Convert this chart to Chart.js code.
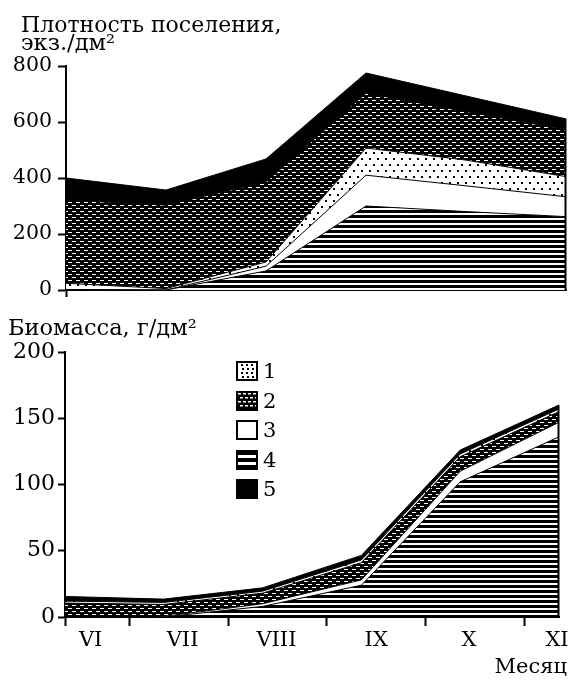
<!DOCTYPE html>
<html><head><meta charset="utf-8">
<script src="https://cdn.jsdelivr.net/npm/chart.js@4.4.1/dist/chart.umd.min.js"></script>
<style>
html,body{margin:0;padding:0;background:#fff;}
#wrap{position:relative;width:576px;height:683px;overflow:hidden;}
#c1{position:absolute;left:0;top:0;}
#c2{position:absolute;left:0;top:310px;}
</style></head><body>
<div id="wrap"><canvas id="c1" width="576" height="310"></canvas><canvas id="c2" width="576" height="373"></canvas></div>
<script>
// ---- data ----
const SAMPLE_MONTHS = [6.35, 7.35, 8.35, 9.35, 10.35, 11.35];   // sampling dates (month units)
const MONTH_BOUNDS = [6.35, 7, 8, 9, 10, 11];                    // tick marks (month boundaries)
const MONTH_LABELS = ['VI', 'VII', 'VIII', 'IX', 'X', 'XI'];
const MONTH_LABEL_AT = [6.61, 7.54, 8.49, 9.5, 10.44, 11.33];
const SERIES_NAMES = ['1', '2', '3', '4', '5'];

const DENSITY_TICKS = [0, 200, 400, 600, 800];
const DENSITY_1 = [22, 5, 15, 97, 92, 72];
const DENSITY_2 = [297, 298, 286, 196, 173, 167];
const DENSITY_3 = [2, 0, 17, 110, 92, 71];
const DENSITY_4 = [0, 0, 68, 300, 280, 262];
const DENSITY_5 = [79, 54, 82, 72, 56, 39];

const BIOMASS_TICKS = [0, 50, 100, 150, 200];
const BIOMASS_1 = [1.5, 1.5, 1.5, 2, 2, 2];
const BIOMASS_2 = [10.5, 9, 8, 13, 11, 8];
const BIOMASS_3 = [0, 0.5, 2, 4, 8, 11];
const BIOMASS_4 = [0, 0, 8, 24, 102, 136];
const BIOMASS_5 = [3.5, 2.5, 2.5, 3.5, 3, 3];

const TITLE_TOP = ['Плотность поселения,', 'экз./дм²'];
const TITLE_BOTTOM = 'Биомасса, г/дм²';
const TITLE_X = 'Месяц';

const FONT = 'DejaVu Serif';
Chart.defaults.font.family = FONT;
Chart.defaults.color = '#000';

function makePatterns(ctx) {
  const tile = (w, h, fn) => {
    const c = document.createElement('canvas'); c.width = w; c.height = h;
    const g = c.getContext('2d'); fn(g); return ctx.createPattern(c, 'repeat');
  };
  return {
    '1': tile(8, 12, g => { g.fillStyle = '#fff'; g.fillRect(0, 0, 8, 12); g.fillStyle = '#000'; g.fillRect(1, 2, 2, 2); g.fillRect(5, 8, 2, 2); }),
    '2': tile(8, 6, g => { g.fillStyle = '#000'; g.fillRect(0, 0, 8, 6); g.fillStyle = '#fff'; g.fillRect(0, 1, 4, 1); g.fillRect(4, 4, 4, 1); }),
    '3': '#ffffff',
    '4': tile(4, 5, g => { g.fillStyle = '#fff'; g.fillRect(0, 0, 4, 5); g.fillStyle = '#000'; g.fillRect(0, 0, 4, 3); }),
    '5': '#000000'
  };
}

function buildDatasets(order, valuesByName, pats) {
  return order.map((name, i) => ({
    label: name,
    data: valuesByName[name].map((v, j) => ({ x: SAMPLE_MONTHS[j], y: v })),
    backgroundColor: pats[name],
    borderColor: '#000',
    borderWidth: 1,
    fill: i === 0 ? 'origin' : '-1',
    pointRadius: 0,
    tension: 0
  }));
}

const edgePlugin = {
  id: 'edge',
  afterDatasetsDraw(chart) {
    const metas = chart.getSortedVisibleDatasetMetas();
    const topMeta = metas.reduce((a, b) => (a.index > b.index ? a : b));
    const last = topMeta.data[topMeta.data.length - 1];
    const ctx = chart.ctx;
    ctx.save();
    ctx.strokeStyle = '#000'; ctx.lineWidth = 2;
    ctx.beginPath();
    ctx.moveTo(Math.round(last.x) - 0.5, last.y);
    ctx.lineTo(Math.round(last.x) - 0.5, chart.scales.y.bottom);
    ctx.stroke();
    ctx.restore();
  }
};

const textPlugin = {
  id: 'texts',
  afterDraw(chart, args, opts) {
    const ctx = chart.ctx;
    ctx.save();
    ctx.fillStyle = '#000';
    (opts.items || []).forEach(it => {
      ctx.font = (it.size || 21) + 'px "' + FONT + '"';
      ctx.textAlign = it.align || 'left';
      ctx.textBaseline = 'alphabetic';
      ctx.fillText(it.text, it.x, it.y);
    });
    ctx.restore();
  }
};

const legendPlugin = {
  id: 'patLegend',
  afterDraw(chart, args, opts) {
    const ctx = chart.ctx;
    ctx.save();
    SERIES_NAMES.forEach((name, i) => {
      const cy = opts.y0 + i * opts.dy;
      const x = opts.x, y = Math.round(cy - opts.h / 2), w = opts.w, h = opts.h;
      ctx.fillStyle = '#fff'; ctx.fillRect(x, y, w, h);
      ctx.fillStyle = '#000';
      if (name === '1') {
        for (let r = 0; r < 4; r++) for (let c = 0; c < 3; c++) ctx.fillRect(x + 5 + c * 5 + (r % 2), y + 3 + r * 4, 2, 2);
      } else if (name === '2') {
        ctx.fillRect(x, y, w, h);
        ctx.fillStyle = '#fff';
        for (let r = 0; r < 5; r++) for (let c = 0; c < 4; c++) ctx.fillRect(x + 2 + c * 5 + (r % 2) * 2, y + 2 + r * 4, 3, 1.5);
      } else if (name === '4') {
        ctx.fillRect(x, y, w, h);
        ctx.fillStyle = '#fff';
        ctx.fillRect(x + 2, y + 5, w - 4, 3);
        ctx.fillRect(x + 2, y + 12, w - 4, 3);
      } else if (name === '5') {
        ctx.fillRect(x, y, w, h);
      }
      ctx.strokeStyle = '#000'; ctx.lineWidth = 2;
      ctx.strokeRect(x + 1, y + 1, w - 2, h - 2);
      ctx.fillStyle = '#000';
      ctx.font = '21px "' + FONT + '"';
      ctx.textAlign = 'left'; ctx.textBaseline = 'middle';
      ctx.fillText(name, x + w + 5, cy + 2);
    });
    ctx.restore();
  }
};

// ---- top chart: density ----
const ctx1 = document.getElementById('c1').getContext('2d');
const pats1 = makePatterns(ctx1);
new Chart(ctx1, {
  type: 'line',
  data: { datasets: buildDatasets(['4', '3', '1', '2', '5'], { '1': DENSITY_1, '2': DENSITY_2, '3': DENSITY_3, '4': DENSITY_4, '5': DENSITY_5 }, pats1) },
  options: {
    responsive: false, animation: false, events: [],
    layout: { padding: { left: 0, right: 10, top: 66, bottom: 0 } },
    scales: {
      x: {
        type: 'linear', min: SAMPLE_MONTHS[0], max: SAMPLE_MONTHS[SAMPLE_MONTHS.length - 1],
        afterBuildTicks: s => { s.ticks = [{ value: MONTH_BOUNDS[0] }]; },
        afterFit: s => { s.height = 20; },
        ticks: { display: false },
        grid: { drawOnChartArea: false, tickLength: 7, tickWidth: 2, color: '#000' },
        border: { display: true, color: '#000', width: 2 }
      },
      y: {
        stacked: true, min: 0, max: 800,
        afterBuildTicks: s => { s.ticks = DENSITY_TICKS.map(v => ({ value: v })); },
        afterFit: s => { s.width = 66; },
        ticks: { font: { size: 20.5 }, padding: 6, color: '#000' },
        grid: { drawOnChartArea: false, tickLength: 8, tickWidth: 2, color: '#000' },
        border: { display: true, color: '#000', width: 2 }
      }
    },
    plugins: {
      legend: { display: false }, tooltip: { enabled: false },
      texts: { items: [
        { text: TITLE_TOP[0], x: 21, y: 32, size: 22 },
        { text: TITLE_TOP[1], x: 21, y: 50, size: 22.5 }
      ] }
    }
  },
  plugins: [edgePlugin, textPlugin]
});

// ---- bottom chart: biomass ----
const ctx2 = document.getElementById('c2').getContext('2d');
const pats2 = makePatterns(ctx2);
const boundSet = new Set(MONTH_BOUNDS);
new Chart(ctx2, {
  type: 'line',
  data: { datasets: buildDatasets(['4', '3', '2', '1', '5'], { '1': BIOMASS_1, '2': BIOMASS_2, '3': BIOMASS_3, '4': BIOMASS_4, '5': BIOMASS_5 }, pats2) },
  options: {
    responsive: false, animation: false, events: [],
    layout: { padding: { left: 0, right: 17, top: 42, bottom: 0 } },
    scales: {
      x: {
        type: 'linear', min: SAMPLE_MONTHS[0], max: SAMPLE_MONTHS[SAMPLE_MONTHS.length - 1],
        afterBuildTicks: s => {
          s.ticks = MONTH_BOUNDS.map(v => ({ value: v })).concat(MONTH_LABEL_AT.map(v => ({ value: v })))
            .sort((a, b) => a.value - b.value);
        },
        afterFit: s => { s.height = 66; },
        ticks: {
          autoSkip: false, maxRotation: 0, minRotation: 0, padding: 2, font: { size: 21 }, color: '#000',
          callback: v => { const k = MONTH_LABEL_AT.indexOf(v); return k >= 0 ? MONTH_LABELS[k] : ''; }
        },
        grid: {
          drawOnChartArea: false, tickLength: 9, tickWidth: 2,
          tickColor: c => (c.tick && boundSet.has(c.tick.value)) ? '#000' : 'rgba(0,0,0,0)', color: '#000'
        },
        border: { display: true, color: '#000', width: 2 }
      },
      y: {
        stacked: true, min: 0, max: 200,
        afterBuildTicks: s => { s.ticks = BIOMASS_TICKS.map(v => ({ value: v })); },
        afterFit: s => { s.width = 65; },
        ticks: { font: { size: 22 }, padding: 3, color: '#000' },
        grid: { drawOnChartArea: false, tickLength: 7, tickWidth: 2, color: '#000' },
        border: { display: true, color: '#000', width: 2 }
      }
    },
    plugins: {
      legend: { display: false }, tooltip: { enabled: false },
      texts: { items: [
        { text: TITLE_BOTTOM, x: 8, y: 25, size: 22.5 },
        { text: TITLE_X, x: 567, y: 363, align: 'right' }
      ] },
      patLegend: { x: 236, w: 22, h: 20, y0: 61, dy: 29.5 }
    }
  },
  plugins: [edgePlugin, textPlugin, legendPlugin]
});
</script>
</body></html>
